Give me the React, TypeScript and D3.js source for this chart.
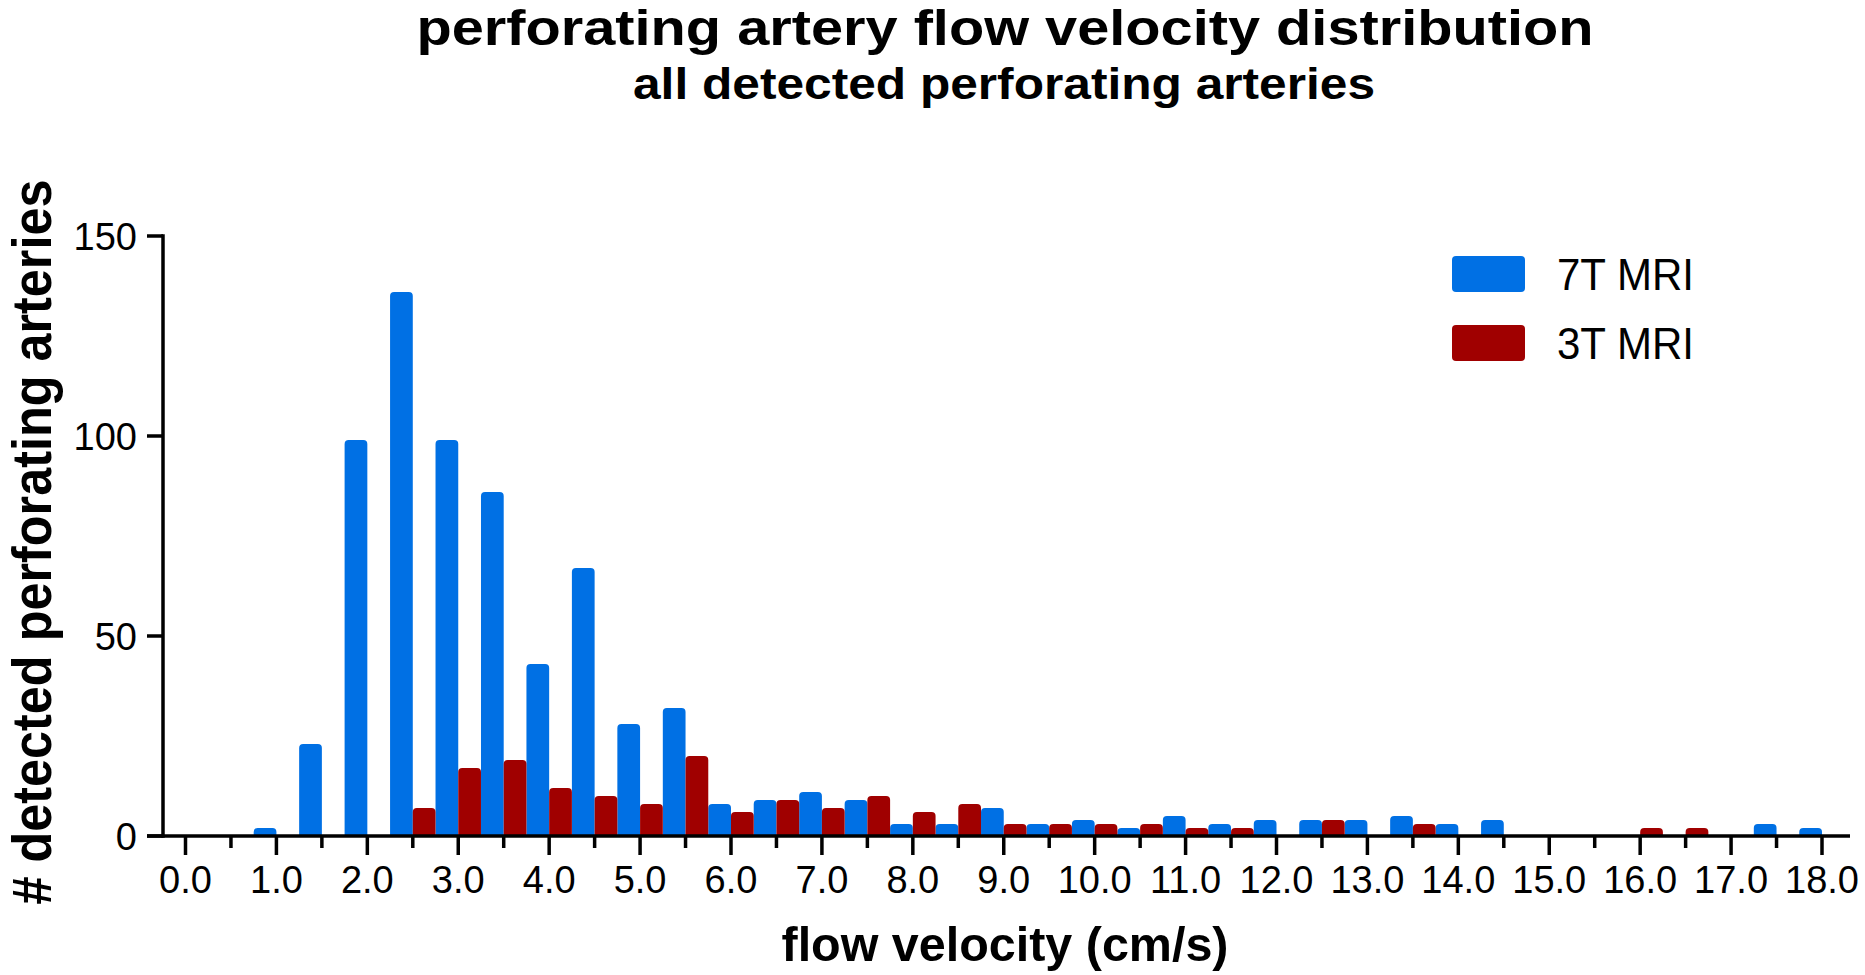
import React, { useEffect, useRef } from "react";
import * as d3 from "d3";

// bin centres (cm/s), each bin is 0.5 wide
const binCenters = [
  0.5, 1.0, 1.5, 2.0, 2.5, 3.0, 3.5, 4.0, 4.5, 5.0, 5.5, 6.0,
  6.5, 7.0, 7.5, 8.0, 8.5, 9.0, 9.5, 10.0, 10.5, 11.0, 11.5, 12.0,
  12.5, 13.0, 13.5, 14.0, 14.5, 15.0, 15.5, 16.0, 16.5, 17.0, 17.5, 18.0,
];
const counts7T = [
  0, 2, 23, 99, 136, 99, 86, 43, 67, 28, 32, 8,
  9, 11, 9, 3, 3, 7, 3, 4, 2, 5, 3, 4,
  4, 4, 5, 3, 4, 0, 0, 0, 0, 0, 3, 2,
];
const counts3T = [
  0, 0, 0, 0, 7, 17, 19, 12, 10, 8, 20, 6,
  9, 7, 10, 6, 8, 3, 3, 3, 3, 2, 2, 0,
  4, 0, 3, 0, 0, 0, 0, 2, 2, 0, 0, 0,
];
const seriesNames = ["7T MRI", "3T MRI"];
const seriesColors = ["#0070E4", "#A00000"];
const xMajorTicks = d3.range(0, 19, 1);
const xMinorTicks = d3.range(0.5, 18, 1);
const yTicks = [0, 50, 100, 150];

const W = 1865;
const H = 975;
const FONT = "'Liberation Sans', Arial, sans-serif";

const App: React.FC = () => {
  const svgRef = useRef<SVGSVGElement>(null);

  useEffect(() => {
    const svg = d3.select(svgRef.current);
    svg.selectAll("*").remove();

    const x = d3.scaleLinear().domain([0, 18]).range([185.5, 1822]);
    const y = d3.scaleLinear().domain([0, 150]).range([836, 236]);
    const axisLeft = 163;
    const axisRight = 1850;
    const halfBin = 0.25;

    // bar with rounded top corners
    const barPath = (x0: number, x1: number, v: number) => {
      const yb = y(0);
      const yt = y(v);
      const r = Math.min(4, (yb - yt) / 2, (x1 - x0) / 2);
      return `M${x0},${yb}V${yt + r}Q${x0},${yt} ${x0 + r},${yt}H${x1 - r}Q${x1},${yt} ${x1},${yt + r}V${yb}Z`;
    };

    const bars = svg.append("g");
    [counts7T, counts3T].forEach((vals, si) => {
      bars.append("g")
        .attr("fill", seriesColors[si])
        .selectAll("path")
        .data(binCenters.map((c, i) => ({ c, v: vals[i] })).filter((d) => d.v > 0))
        .join("path")
        .attr("d", (d) =>
          si === 0
            ? barPath(x(d.c - halfBin), x(d.c), d.v)
            : barPath(x(d.c), x(d.c + halfBin), d.v)
        );
    });

    const axes = svg.append("g").attr("stroke", "#000").attr("stroke-width", 3.5);
    axes.append("line")
      .attr("x1", axisLeft).attr("x2", axisLeft)
      .attr("y1", y(150) - 1.75).attr("y2", y(0) + 1.75);
    axes.append("line")
      .attr("x1", axisLeft - 16).attr("x2", axisRight)
      .attr("y1", y(0)).attr("y2", y(0));

    axes.selectAll(".ytick")
      .data(yTicks)
      .join("line")
      .attr("x1", axisLeft - 16).attr("x2", axisLeft)
      .attr("y1", (d) => y(d)).attr("y2", (d) => y(d));

    axes.selectAll(".xmaj")
      .data(xMajorTicks)
      .join("line")
      .attr("x1", (d) => x(d)).attr("x2", (d) => x(d))
      .attr("y1", y(0)).attr("y2", y(0) + 19);

    axes.selectAll(".xmin")
      .data(xMinorTicks)
      .join("line")
      .attr("x1", (d) => x(d)).attr("x2", (d) => x(d))
      .attr("y1", y(0)).attr("y2", y(0) + 12);

    const labels = svg.append("g").attr("font-family", FONT).attr("fill", "#000");

    labels.selectAll(".xl")
      .data(xMajorTicks)
      .join("text")
      .attr("x", (d) => x(d))
      .attr("y", 893)
      .attr("text-anchor", "middle")
      .attr("font-size", 38)
      .text((d) => d.toFixed(1));

    labels.selectAll(".yl")
      .data(yTicks)
      .join("text")
      .attr("x", 137)
      .attr("y", (d) => y(d))
      .attr("dy", "0.36em")
      .attr("text-anchor", "end")
      .attr("font-size", 38)
      .text((d) => String(d));

    // titles
    labels.append("text")
      .attr("x", 1005).attr("y", 45)
      .attr("text-anchor", "middle")
      .attr("font-size", 50).attr("font-weight", "bold")
      .attr("textLength", 1177).attr("lengthAdjust", "spacingAndGlyphs")
      .text("perforating artery flow velocity distribution");
    labels.append("text")
      .attr("x", 1004).attr("y", 99)
      .attr("text-anchor", "middle")
      .attr("font-size", 44).attr("font-weight", "bold")
      .attr("textLength", 742).attr("lengthAdjust", "spacingAndGlyphs")
      .text("all detected perforating arteries");
    labels.append("text")
      .attr("x", 1005).attr("y", 961)
      .attr("text-anchor", "middle")
      .attr("font-size", 49).attr("font-weight", "bold")
      .attr("textLength", 447).attr("lengthAdjust", "spacingAndGlyphs")
      .text("flow velocity (cm/s)");
    labels.append("text")
      .attr("transform", "translate(51,542) rotate(-90)")
      .attr("text-anchor", "middle")
      .attr("font-size", 55).attr("font-weight", "bold")
      .attr("textLength", 725).attr("lengthAdjust", "spacingAndGlyphs")
      .text("# detected perforating arteries");

    // legend
    const legend = svg.append("g");
    seriesNames.forEach((name, i) => {
      const ly = 256 + i * 69;
      legend.append("rect")
        .attr("x", 1452).attr("y", ly)
        .attr("width", 73).attr("height", 36)
        .attr("rx", 4)
        .attr("fill", seriesColors[i]);
      legend.append("text")
        .attr("x", 1557).attr("y", ly + 34)
        .attr("font-family", FONT)
        .attr("font-size", 45)
        .attr("textLength", 137).attr("lengthAdjust", "spacingAndGlyphs")
        .text(name);
    });
  }, []);

  return (
    <svg
      ref={svgRef}
      width={W}
      height={H}
      style={{ position: "absolute", left: 0, top: 0, background: "#fff", display: "block" }}
    />
  );
};

export default App;
